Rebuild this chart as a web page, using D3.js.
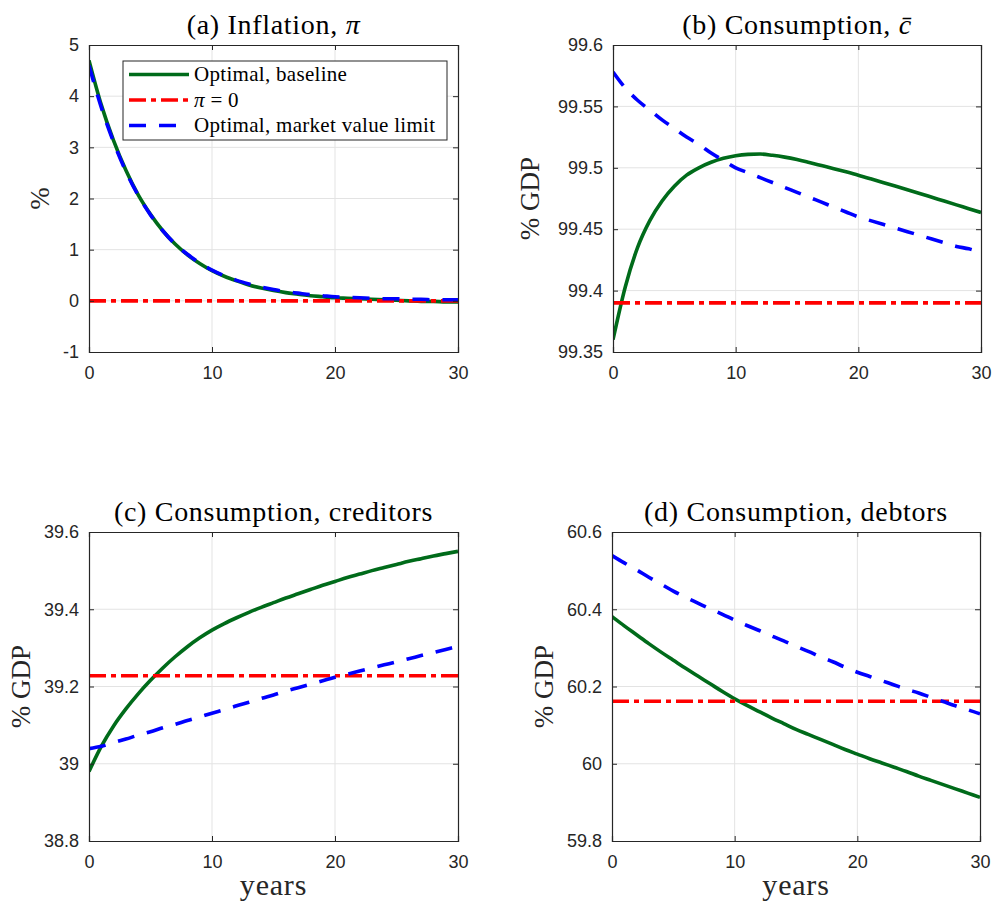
<!DOCTYPE html>
<html>
<head>
<meta charset="utf-8">
<script src="https://cdn.jsdelivr.net/npm/d3@7"></script>
<style>
  body { margin: 0; background: #fff; }
  text { fill: #262626; }
  .serif { font-family: "Liberation Serif", "DejaVu Serif", serif; fill: #000; }
  text.tick { font-family: "Liberation Sans", Arial, sans-serif; font-size: 18px; }
</style>
</head>
<body>
<div id="chart"></div>
<script>
// years on the x axis
const years = [0,1,2,3,4,5,6,7,8,9,10,11,12,13,14,15,16,17,18,19,20,21,22,23,24,25,26,27,28,29,30];

// (a) inflation, %
const inflOptimal = [4.70,3.83,3.13,2.55,2.07,1.69,1.37,1.11,0.90,0.73,0.59,0.48,0.39,0.31,0.25,0.20,0.16,0.13,0.10,0.08,0.06,0.05,0.04,0.03,0.02,0.01,0.00,-0.01,-0.01,-0.02,-0.02];
const inflZero    = [0,0,0,0,0,0,0,0,0,0,0,0,0,0,0,0,0,0,0,0,0,0,0,0,0,0,0,0,0,0,0];
const inflMarket  = [4.60,3.78,3.10,2.53,2.06,1.68,1.37,1.11,0.91,0.74,0.60,0.49,0.40,0.33,0.27,0.22,0.18,0.15,0.12,0.10,0.08,0.07,0.06,0.05,0.04,0.04,0.03,0.03,0.02,0.02,0.02];

// (b) aggregate consumption, % GDP
const consOptimal = [99.360,99.403,99.435,99.457,99.473,99.485,99.494,99.500,99.5045,99.5077,99.5098,99.5109,99.5112,99.5102,99.5087,99.5067,99.5043,99.5018,99.4993,99.4967,99.4940,99.4911,99.4881,99.4851,99.4821,99.4791,99.4760,99.4729,99.4698,99.4667,99.4636];
const consZero    = [99.39,99.39,99.39,99.39,99.39,99.39,99.39,99.39,99.39,99.39,99.39,99.39,99.39,99.39,99.39,99.39,99.39,99.39,99.39,99.39,99.39,99.39,99.39,99.39,99.39,99.39,99.39,99.39,99.39,99.39,99.39];
const consMarket  = [99.578,99.565,99.555,99.547,99.539,99.532,99.525,99.519,99.512,99.506,99.500,99.496,99.492,99.488,99.484,99.480,99.476,99.472,99.468,99.464,99.460,99.457,99.454,99.451,99.448,99.445,99.442,99.439,99.436,99.434,99.431];

// (c) consumption of creditors, % GDP
const credOptimal = [38.980,39.045,39.098,39.142,39.181,39.216,39.248,39.277,39.303,39.326,39.346,39.363,39.378,39.392,39.405,39.417,39.429,39.440,39.451,39.462,39.472,39.482,39.491,39.500,39.508,39.516,39.524,39.531,39.538,39.544,39.550];
const credZero    = [39.228,39.228,39.228,39.228,39.228,39.228,39.228,39.228,39.228,39.228,39.228,39.228,39.228,39.228,39.228,39.228,39.228,39.228,39.228,39.228,39.228,39.228,39.228,39.228,39.228,39.228,39.228,39.228,39.228,39.228,39.228];
const credMarket  = [39.039,39.045,39.055,39.064,39.074,39.083,39.093,39.102,39.112,39.121,39.131,39.140,39.150,39.159,39.169,39.178,39.188,39.197,39.206,39.215,39.224,39.232,39.240,39.248,39.256,39.264,39.272,39.280,39.288,39.296,39.304];

// (d) consumption of debtors, % GDP
const debtOptimal = [60.381,60.357,60.334,60.311,60.289,60.268,60.247,60.227,60.207,60.187,60.168,60.151,60.135,60.119,60.104,60.089,60.076,60.063,60.050,60.037,60.025,60.013,60.002,59.991,59.980,59.968,59.957,59.946,59.935,59.924,59.913];
const debtZero    = [60.162,60.162,60.162,60.162,60.162,60.162,60.162,60.162,60.162,60.162,60.162,60.162,60.162,60.162,60.162,60.162,60.162,60.162,60.162,60.162,60.162,60.162,60.162,60.162,60.162,60.162,60.162,60.162,60.162,60.162,60.162];
const debtMarket  = [60.539,60.520,60.502,60.483,60.465,60.447,60.431,60.416,60.401,60.387,60.372,60.358,60.345,60.331,60.318,60.304,60.291,60.277,60.264,60.250,60.237,60.226,60.215,60.204,60.193,60.183,60.172,60.161,60.150,60.140,60.129];

const xTicks = [0, 10, 20, 30];
const legendLabels = ["Optimal, baseline", "\u03c0 = 0", "Optimal, market value limit"];

const styles = [
  { color: "#006b1a", dash: null },
  { color: "#ff0000", dash: "17,5,5,5" },
  { color: "#0000ff", dash: "17,13" }
];

const panels = [
  { title: ["(a) Inflation, ", "\u03c0"], ylabel: "%", yDomain: [-1, 5], yTicks: [-1,0,1,2,3,4,5],
    series: [inflOptimal, inflZero, inflMarket], x0: 89, x1: 458, y0: 45, y1: 352, ylabX: 40, legend: true },
  { title: ["(b) Consumption, ", "c\u0304"], ylabel: "% GDP", yDomain: [99.35, 99.6], yTicks: [99.35,99.4,99.45,99.5,99.55,99.6],
    series: [consOptimal, consZero, consMarket], x0: 613, x1: 981, y0: 45, y1: 352, ylabX: 530 },
  { title: ["(c) Consumption, creditors"], ylabel: "% GDP", yDomain: [38.8, 39.6], yTicks: [38.8,39,39.2,39.4,39.6],
    series: [credOptimal, credZero, credMarket], x0: 89, x1: 458, y0: 532, y1: 841, ylabX: 21, xlabel: true },
  { title: ["(d) Consumption, debtors"], ylabel: "% GDP", yDomain: [59.8, 60.6], yTicks: [59.8,60,60.2,60.4,60.6],
    series: [debtOptimal, debtZero, debtMarket], x0: 612, x1: 980, y0: 532, y1: 841, ylabX: 544, xlabel: true }
];

const svg = d3.select("#chart").append("svg")
  .attr("width", 992)
  .attr("height", 906);

panels.forEach(p => {
  const x = d3.scaleLinear().domain([0, 30]).range([p.x0, p.x1]);
  const y = d3.scaleLinear().domain(p.yDomain).range([p.y1, p.y0]);
  const g = svg.append("g");

  // grid
  g.selectAll("line.gx").data(xTicks.slice(1, -1)).enter().append("line")
    .attr("x1", d => x(d)).attr("x2", d => x(d))
    .attr("y1", p.y0).attr("y2", p.y1)
    .attr("stroke", "#e3e3e3").attr("stroke-width", 1);
  g.selectAll("line.gy").data(p.yTicks.slice(1, -1)).enter().append("line")
    .attr("y1", d => y(d)).attr("y2", d => y(d))
    .attr("x1", p.x0).attr("x2", p.x1)
    .attr("stroke", "#e3e3e3").attr("stroke-width", 1);

  // clip
  const clipId = "clip" + p.x0 + "_" + p.y0;
  svg.append("clipPath").attr("id", clipId).append("rect")
    .attr("x", p.x0).attr("y", p.y0).attr("width", p.x1 - p.x0).attr("height", p.y1 - p.y0);

  const line = d3.line()
    .x((d, i) => x(years[i]))
    .y(d => y(d))
    .curve(d3.curveMonotoneX);

  p.series.forEach((s, i) => {
    g.append("path")
      .attr("d", line(s))
      .attr("clip-path", `url(#${clipId})`)
      .attr("fill", "none")
      .attr("stroke", styles[i].color)
      .attr("stroke-width", 3.6)
      .attr("stroke-dasharray", styles[i].dash);
  });

  // box + axes
  const bottom = g.append("g").attr("transform", `translate(0,${p.y1})`)
    .call(d3.axisBottom(x).tickValues(xTicks).tickSize(-5).tickPadding(10));
  const top = g.append("g").attr("transform", `translate(0,${p.y0})`)
    .call(d3.axisTop(x).tickValues(xTicks).tickSize(-5).tickFormat(""));
  const left = g.append("g").attr("transform", `translate(${p.x0},0)`)
    .call(d3.axisLeft(y).tickValues(p.yTicks).tickSize(-5).tickPadding(10).tickFormat(d => String(d)));
  const right = g.append("g").attr("transform", `translate(${p.x1},0)`)
    .call(d3.axisRight(y).tickValues(p.yTicks).tickSize(-5).tickFormat(""));
  [bottom, top, left, right].forEach(a => {
    a.attr("font-family", null).attr("font-size", null);
    a.select(".domain").attr("stroke", "#262626").attr("stroke-width", 1.2);
    a.selectAll(".tick line").attr("stroke", "#262626");
    a.selectAll(".tick text").attr("class", "tick").attr("fill", "#262626");
  });
  bottom.selectAll(".tick text").attr("dy", "0.95em");

  // title
  const t = svg.append("text").attr("class", "serif")
    .attr("x", (p.x0 + p.x1) / 2).attr("y", p.y0 - 11)
    .attr("text-anchor", "middle")
    .style("font-size", "28px").style("letter-spacing", "0.7px");
  t.append("tspan").text(p.title[0]);
  if (p.title[1]) t.append("tspan").style("font-style", "italic").text(p.title[1]);

  // y label
  svg.append("text").attr("class", "serif")
    .attr("transform", `translate(${p.ylabX},${(p.y0 + p.y1) / 2}) rotate(-90)`)
    .attr("text-anchor", "middle").attr("dominant-baseline", "central")
    .style("font-size", "27px").style("fill", "#262626")
    .text(p.ylabel);

  if (p.xlabel) {
    svg.append("text").attr("class", "serif")
      .attr("x", (p.x0 + p.x1) / 2).attr("y", 895)
      .attr("text-anchor", "middle")
      .style("font-size", "30px").style("letter-spacing", "0.8px").style("fill", "#262626")
      .text("years");
  }

  if (p.legend) {
    const lg = svg.append("g").attr("transform", "translate(123,61)");
    lg.append("rect").attr("width", 324).attr("height", 79)
      .attr("fill", "#fff").attr("stroke", "#262626").attr("stroke-width", 1);
    legendLabels.forEach((lab, i) => {
      const yy = 13.5 + i * 25.5;
      lg.append("line").attr("x1", 6).attr("x2", 66).attr("y1", yy).attr("y2", yy)
        .attr("stroke", styles[i].color).attr("stroke-width", 3.6)
        .attr("stroke-dasharray", styles[i].dash);
      const tx = lg.append("text").attr("class", "serif")
        .attr("x", 71).attr("y", yy + 6.5)
        .style("font-size", "21px").style("letter-spacing", "0.3px");
      if (i === 1) {
        tx.append("tspan").style("font-style", "italic").text("\u03c0");
        tx.append("tspan").text(" = 0");
      } else {
        tx.text(lab);
      }
    });
  }
});
</script>
</body>
</html>
